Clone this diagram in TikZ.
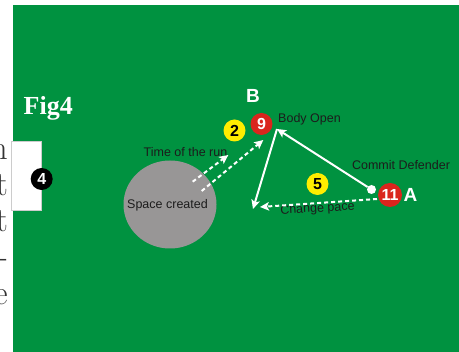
\documentclass[tikz,border=0pt]{standalone}
\usepackage{fontspec}
\newfontfamily\sansf{Liberation Sans}
\newfontfamily\seriff{Liberation Serif}
\usetikzlibrary{arrows.meta,shapes.geometric}
\definecolor{pitch}{RGB}{0,146,64}
\definecolor{ballyellow}{RGB}{255,237,0}
\definecolor{ballred}{RGB}{218,37,29}
\definecolor{spacegray}{RGB}{152,150,150}
\definecolor{labeltext}{RGB}{28,28,28}
\begin{document}
\begin{tikzpicture}[x=1pt,y=-1pt,
  player/.style={circle,inner sep=0pt,minimum size=22pt,font=\sansf\fontsize{16}{16}\bfseries\selectfont},
  yellowp/.style={player,fill=ballyellow,text=black},
  redp/.style={player,fill=ballred,text=white},
  lbl/.style={inner sep=0pt,text=labeltext,font=\sansf\fontsize{12.5}{14}\selectfont},
  bigletter/.style={inner sep=0pt,text=white,font=\sansf\fontsize{19}{19}\bfseries\selectfont},
  pageletter/.style={inner sep=0pt,anchor=base east,text=black!80,font=\fontsize{34}{36}\selectfont},
  runline/.style={draw=white,line width=2pt,-{Stealth[length=9pt,width=8.5pt,inset=2pt]}},
  dashrun/.style={runline,dash pattern=on 4pt off 3pt}]
\useasboundingbox (0,0) rectangle (459,352);
\clip (0,0) rectangle (459,352);
\fill[white] (0,0) rectangle (459,352);
% clipped page text on the left
\node[pageletter] (l1) at (8,160) {n};
\node[pageletter] (l2) at (8,196) {t};
\node[pageletter] (l3) at (8,232) {t};
\node[pageletter] (l4) at (8,268) {-};
\node[pageletter] (l5) at (8,305) {e};
% pitch
\fill[pitch] (13,5) rectangle (459,352);
\filldraw[fill=white,draw=black!20,line width=0.6pt] (11.7,141) rectangle (41.7,210);
\node[player,fill=black,text=white] (p4) at (41.7,179) {4};
% title
\node[inner sep=0pt,anchor=base west,text=white,font=\seriff\fontsize{26}{26}\bfseries\selectfont] (fig) at (23.5,115) {Fig4};
% space
\node[ellipse,fill=spacegray,inner sep=0pt,minimum width=93pt,minimum height=88pt] (space) at (170,204.5) {};
\node[lbl] (spacetxt) at (167.5,205) {Space created};
% players
\node[yellowp] (p2) at (234.5,130.5) {2};
\node[redp] (p9) at (261.5,124) {9};
\node[yellowp] (p5) at (317.5,184) {5};
\node[redp,minimum size=24pt] (p11) at (390,195) {11};
\node[circle,fill=white,inner sep=0pt,minimum size=9pt] (dot) at (371.5,189.5) {};
% letters
\node[bigletter] (B) at (253,96) {B};
\node[bigletter] (A) at (410.5,195) {A};
% labels
\node[lbl] (body) at (309.5,119) {Body Open};
\node[lbl] (commit) at (401,165) {Commit Defender};
\node[lbl] (timerun) at (185.5,152) {Time of the run};
\node[lbl,rotate=3] (change) at (317.5,209) {Change pace};
% run coordinates
\coordinate (tip) at (277,129);
\coordinate (drop) at (253,209);
\coordinate (cps) at (377,199);
\coordinate (cpe) at (260,207);
\coordinate (s1) at (192.7,181.7);
\coordinate (e1) at (228.3,155);
\coordinate (s2) at (201.7,191);
\coordinate (e2) at (263.3,140);
% runs
\draw[runline] (dot) -- (tip);
\draw[runline] (tip) -- (drop);
\draw[dashrun] (cps) -- (cpe);
\draw[dashrun] (s1) -- (e1);
\draw[dashrun] (s2) -- (e2);
\end{tikzpicture}
\end{document}
